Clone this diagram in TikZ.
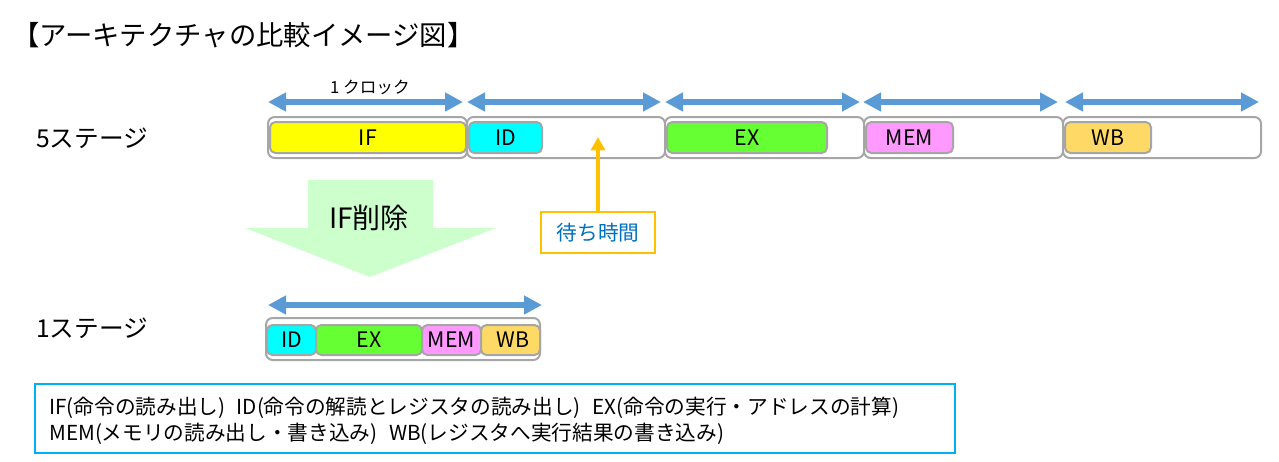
\documentclass[tikz,border=0pt]{standalone}
\usepackage{fontspec}
\setmainfont{Noto Sans CJK JP}
\usetikzlibrary{arrows.meta}
\definecolor{arrowblue}{HTML}{5B9BD5}
\definecolor{boxgray}{HTML}{A6A6A6}
\definecolor{ifyellow}{HTML}{FFFF00}
\definecolor{idcyan}{HTML}{00FFFF}
\definecolor{exgreen}{HTML}{66FF33}
\definecolor{mempink}{HTML}{FF99FF}
\definecolor{wbgold}{HTML}{FFD966}
\definecolor{delgreen}{HTML}{CCFFCC}
\definecolor{waitorange}{HTML}{FFC000}
\definecolor{waitblue}{HTML}{0070C0}
\definecolor{legendblue}{HTML}{00B0F0}
\tikzset{
  outerbox/.style={draw=boxgray, line width=1.5pt, rounded corners=5pt, fill=white, inner sep=0pt},
  stagebox/.style={draw=boxgray, line width=1.5pt, rounded corners=4pt, inner sep=0pt, font=\fontsize{16}{18}\selectfont},
  clockarrow/.style={draw=arrowblue, line width=4.5pt,
    {Triangle[length=13.5pt,width=13.5pt,fill=arrowblue]}-{Triangle[length=13.5pt,width=13.5pt,fill=arrowblue]}},
  waitarrow/.style={draw=waitorange, line width=2.5pt, -{Triangle[length=10pt,width=10.5pt,fill=waitorange]}},
  bigtext/.style={inner sep=0pt, font=\fontsize{18.5}{22}\selectfont},
}
\begin{document}
\begin{tikzpicture}[x=0.75pt,y=-0.75pt]
\useasboundingbox (0,0) rectangle (1279,461);

% title
\node[bigtext, anchor=west, font=\fontsize{20.5}{24}\selectfont] (title) at (12,35) {【アーキテクチャの比較イメージ図】};

% stage labels
\node[bigtext, anchor=west] (lab5) at (36,138) {5ステージ};
\node[bigtext, anchor=west] (lab1) at (36,328) {1ステージ};

% clock arrows
\coordinate (a1l) at (268,102); \coordinate (a1r) at (463,102);
\coordinate (a2l) at (467,102); \coordinate (a2r) at (661,102);
\coordinate (a3l) at (665,102); \coordinate (a3r) at (860,102);
\coordinate (a4l) at (863,102); \coordinate (a4r) at (1058,102);
\coordinate (a5l) at (1065,102); \coordinate (a5r) at (1259,102);
\draw[clockarrow] (a1l) -- (a1r);
\draw[clockarrow] (a2l) -- (a2r);
\draw[clockarrow] (a3l) -- (a3r);
\draw[clockarrow] (a4l) -- (a4r);
\draw[clockarrow] (a5l) -- (a5r);
\node[inner sep=0pt, font=\fontsize{12.5}{15}\selectfont] (clk) at (370,87) {1 クロック};

% outer boxes 5 stage
\node[outerbox, minimum width=199*0.75pt, minimum height=41*0.75pt] (o1) at (367.5,137.5) {};
\node[outerbox, minimum width=198*0.75pt, minimum height=41*0.75pt] (o2) at (566,137.5) {};
\node[outerbox, minimum width=199*0.75pt, minimum height=41*0.75pt] (o3) at (764.5,137.5) {};
\node[outerbox, minimum width=199*0.75pt, minimum height=41*0.75pt] (o4) at (963.5,137.5) {};
\node[outerbox, minimum width=198*0.75pt, minimum height=41*0.75pt] (o5) at (1162,137.5) {};

% inner boxes 5 stage
\node[stagebox, fill=ifyellow, minimum width=196*0.75pt, minimum height=31*0.75pt] (sif) at (368,137.5) {IF};
\node[stagebox, fill=idcyan, minimum width=73*0.75pt, minimum height=31*0.75pt] (sid) at (505.5,137.5) {\raisebox{-2pt}{ID}};
\node[stagebox, fill=exgreen, minimum width=160*0.75pt, minimum height=31*0.75pt] (sex) at (747,137.5) {EX};
\node[stagebox, fill=mempink, minimum width=87*0.75pt, minimum height=31*0.75pt] (smem) at (909.5,137.5) {MEM};
\node[stagebox, fill=wbgold, minimum width=86*0.75pt, minimum height=31*0.75pt] (swb) at (1108,137.5) {WB};

% wait time
\node[draw=waitorange, line width=1.5pt, fill=white, inner sep=0pt, minimum width=114*0.75pt, minimum height=41*0.75pt,
      text=waitblue, font=\fontsize{15.5}{18}\selectfont] (wait) at (598,232.5) {待ち時間};
\coordinate (waittip) at (598,137);
\draw[waitarrow] (wait.north) -- (waittip);

% IF removal arrow
\fill[delgreen] (308,180) -- (433,180) -- (433,228) -- (496,228) -- (370,277) -- (245,228) -- (308,228) -- cycle;
\node[inner sep=0pt, font=\fontsize{21}{24}\selectfont] (ifdel) at (369,218) {IF削除};

% 1 stage
\coordinate (b1l) at (268,305); \coordinate (b1r) at (542,305);
\draw[clockarrow] (b1l) -- (b1r);
\node[outerbox, minimum width=274*0.75pt, minimum height=42*0.75pt] (ob) at (403,339) {};
\node[stagebox, fill=idcyan, minimum width=49*0.75pt, minimum height=30*0.75pt] (bid) at (291.5,340) {ID};
\node[stagebox, fill=exgreen, minimum width=106*0.75pt, minimum height=30*0.75pt] (bex) at (369,340) {EX};
\node[stagebox, fill=mempink, minimum width=59*0.75pt, minimum height=30*0.75pt] (bmem) at (451.5,340) {MEM};
\node[stagebox, fill=wbgold, minimum width=59*0.75pt, minimum height=30*0.75pt] (bwb) at (510.5,340) {\hspace{4pt}WB};

% legend
\node[draw=legendblue, line width=1.5pt, inner sep=0pt, minimum width=920*0.75pt, minimum height=69*0.75pt] (legend) at (495,418.5) {};
\node[anchor=west, inner sep=0pt, align=left, font=\fontsize{15.5}{19.5}\selectfont] (legtext) at (49,421)
  {IF(命令の読み出し)\hspace{0.55em}ID(命令の解読とレジスタの読み出し)\hspace{0.55em}EX(命令の実行・アドレスの計算)\\
   MEM(メモリの読み出し・書き込み)\hspace{0.55em}WB(レジスタへ実行結果の書き込み)};
\end{tikzpicture}
\end{document}
